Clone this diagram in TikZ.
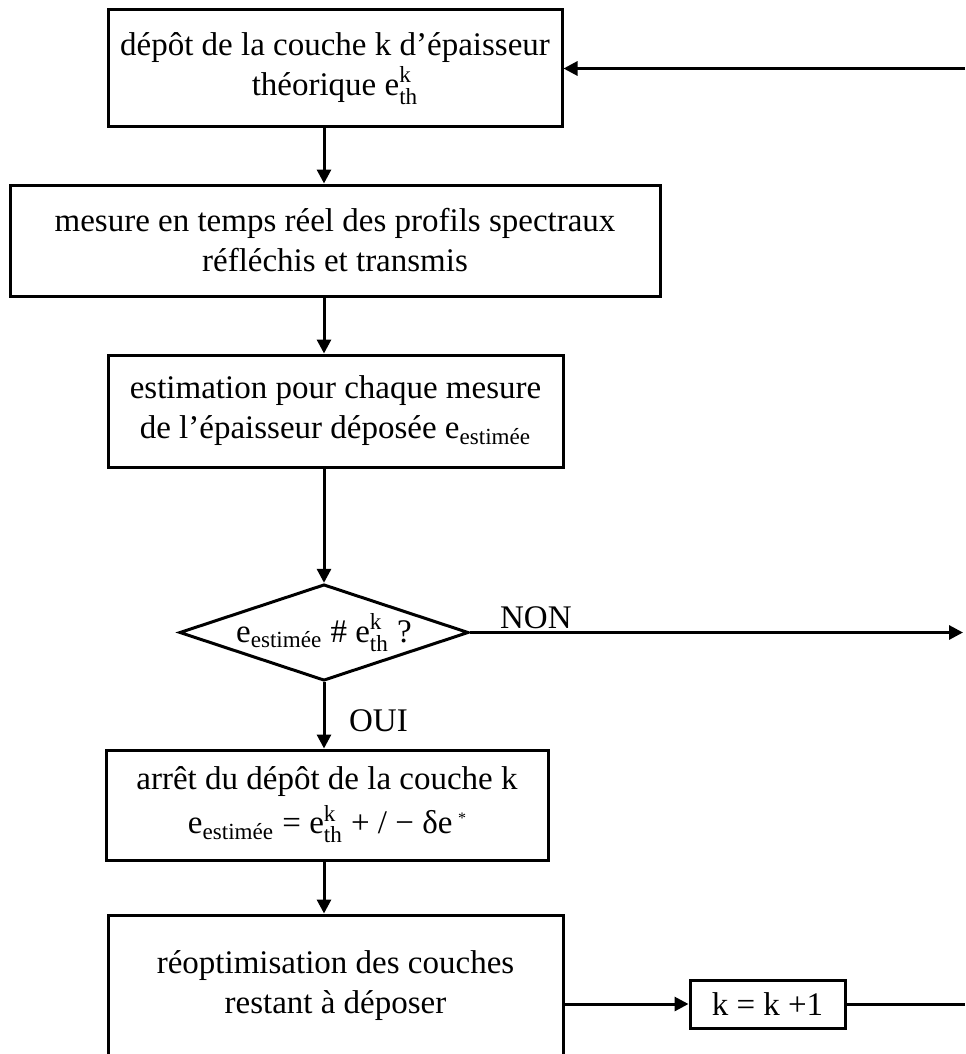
\documentclass[tikz,border=0pt]{standalone}
\usepackage{amsmath}
\usepackage{fontspec}
\setmainfont{Liberation Serif}
\usetikzlibrary{shapes.geometric,arrows.meta}
\newcommand{\eth}{e$^{\text{k}}_{\text{th}}$}
\newcommand{\eest}{e$_{\text{estimée}}$}

\begin{document}
\begin{tikzpicture}[x=0.5pt,y=-0.5pt,font=\fontsize{16.5}{20}\selectfont,line width=1.5pt,
  >={Triangle[length=7pt,width=7pt]},
  box/.style={draw,align=center,inner sep=0pt},
  test/.style={draw,diamond,aspect=3,inner sep=0pt}]
\useasboundingbox (0,0) rectangle (965,1054);
\clip (0,0) rectangle (965,1054);
\node[box,minimum width=227pt,minimum height=58.5pt] (depot) at (335,68.5) {dépôt de la couche k d’épaisseur\\théorique \eth};
\node[box,minimum width=325pt,minimum height=55.5pt] (mesure) at (335,240.5) {mesure en temps réel des profils spectraux\\réfléchis et transmis};
\node[box,minimum width=227.5pt,minimum height=56pt] (estim) at (335.5,411) {estimation pour chaque mesure\\de l’épaisseur déposée \eest};
\node[test,minimum width=143pt,minimum height=47.5pt] (test) at (324,632.5) {\eest{} \# \eth{} ?};
\node[box,minimum width=221pt,minimum height=55pt] (arret) at (327,805) {arrêt du dépôt de la couche k\\[2pt]\eest{} = \eth{} + / − δe\,\raisebox{5pt}{\footnotesize *}};
\node[box,minimum width=227.5pt,minimum height=71pt] (reopt) at (335.5,986) {réoptimisation des couches\\restant à déposer};
\node[box,minimum width=77.5pt,minimum height=24pt] (incr) at (767.5,1004) {k = k +1};
\coordinate (retour) at (965,68.5);
\coordinate (fin) at (965,1004);
\coordinate (sortie) at (963,632.5);
% liaisons
\draw[->] (depot.south -| test.north) -- (mesure.north -| test.north);
\draw[->] (mesure.south -| test.north) -- (estim.north -| test.north);
\draw[->] (estim.south -| test.north) -- (test.north);
\draw[->] (test.south) -- (arret.north -| test.south);
\draw[->] (arret.south -| test.south) -- (reopt.north -| test.south);
\draw[->] (incr.west -| reopt.east) -- (incr.west);
\draw (incr.east) -- (fin);
\draw[->] (retour) -- (depot.east);
\draw[->] (test.east) -- (sortie);
\node[anchor=base west] (non) at (492,628) {NON};
\node[anchor=base west] (oui) at (341,731) {OUI};
\end{tikzpicture}
\end{document}
